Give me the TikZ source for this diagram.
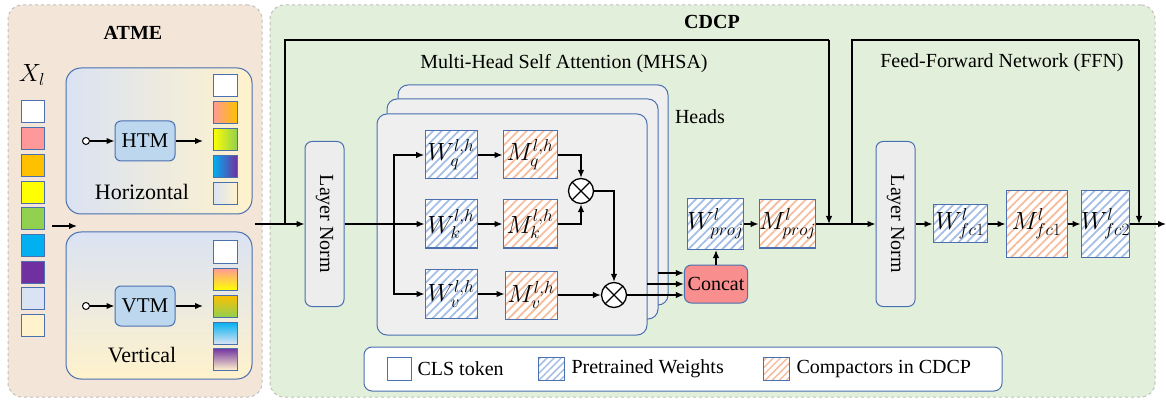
\documentclass[tikz,border=0pt]{standalone}
\usepackage{fontspec}
\setmainfont{Liberation Serif}
\usetikzlibrary{arrows.meta,patterns.meta}
\definecolor{bordc}{HTML}{4A70B0}
\definecolor{atmefill}{HTML}{F3E5D8}
\definecolor{cdcpfill}{HTML}{E2EFDA}
\definecolor{panelgray}{HTML}{BFBFBF}
\definecolor{lngray}{HTML}{EDEDED}
\definecolor{headgray}{HTML}{EFEFEF}
\definecolor{tmblue}{HTML}{BDD7EE}
\definecolor{concatc}{HTML}{F88E8E}
\definecolor{hatchb}{HTML}{A4BEE6}
\definecolor{hatcho}{HTML}{F6BE9E}
\definecolor{ga}{HTML}{DAE3F3}
\definecolor{gb}{HTML}{FFF2CC}
\definecolor{cpink}{HTML}{FF9999}
\definecolor{corange}{HTML}{FFC000}
\definecolor{cyellow}{HTML}{FFFF00}
\definecolor{cgreen}{HTML}{92D050}
\definecolor{ccyan}{HTML}{00B0F0}
\definecolor{cpurple}{HTML}{7030A0}
\tikzset{
  arr/.style={line width=1.4pt, -{Latex[length=8pt,width=6.5pt]}},
  plain/.style={line width=1.4pt},
  tok/.style={draw=bordc, line width=1pt, minimum width=23pt, minimum height=22pt, inner sep=0pt},
  pre/.style={draw=bordc, line width=1pt, preaction={fill=white},
    pattern={Lines[angle=45,distance=6pt,line width=1.8pt]}, pattern color=hatchb,
    inner sep=0pt, font=\fontsize{25}{28}\selectfont},
  comp/.style={pre, pattern color=hatcho},
  lnbox/.style={draw=bordc, line width=1pt, fill=lngray, rounded corners=7pt, minimum width=39pt, minimum height=165pt},
  tm/.style={draw=bordc, line width=1pt, fill=tmblue, rounded corners=6pt, minimum width=60pt, minimum height=40pt, font=\fontsize{21}{24}\selectfont},
  head/.style={draw=bordc, line width=1pt, fill=headgray, rounded corners=10pt},
  gbox/.style={draw=bordc, line width=1pt, rounded corners=15pt, minimum width=186pt},
  otim/.style={circle, draw, line width=1.3pt, fill=white, minimum size=25pt, inner sep=0pt,
    path picture={\draw[line width=1.3pt] (path picture bounding box.south west) -- (path picture bounding box.north east)
      (path picture bounding box.north west) -- (path picture bounding box.south east);}},
  panel/.style={draw=panelgray, dashed, line width=1pt, rounded corners=14pt},
  dotc/.style={circle, draw, line width=1pt, fill=white, minimum size=7pt, inner sep=0pt},
}
\begin{document}
\begin{tikzpicture}[x=1pt,y=-1pt,font=\fontsize{20}{24}\selectfont]
\useasboundingbox (0,0) rectangle (1166,403);
% panels
\node[panel, fill=atmefill, minimum width=254pt, minimum height=392pt] (atme) at (135,201) {};
\node[panel, fill=cdcpfill, minimum width=885pt, minimum height=392pt] (cdcp) at (712.5,201) {};
\node[font=\fontsize{20}{24}\selectfont\bfseries] (atmet) at (133,33) {ATME};
\node[font=\fontsize{20}{24}\selectfont\bfseries] (cdcpt) at (712,22) {CDCP};
% ATME
\node[font=\fontsize{23}{26}\selectfont] (xl) at (32,75) {$X_l$};
\foreach \c [count=\i from 0] in {white,cpink,corange,cyellow,cgreen,ccyan,cpurple,ga,gb}{
  \node[tok, fill=\c] (x\i) at (32.5,112+26.7*\i) {};
}
\coordinate (xa) at (52,226);
\coordinate (xb) at (77,226);
\draw[arr] (xa) -- (xb);
% horizontal
\node[gbox, minimum height=146pt, left color=ga, right color=gb] (hbox) at (159,141) {};
\node[tm] (htm) at (145,141) {HTM};
\node[dotc] (hdot) at (86,141) {};
\draw[arr] (hdot) -- (htm);
\coordinate (hout) at (203,141);
\draw[arr] (htm) -- (hout);
\node[font=\fontsize{22}{26}\selectfont] (hlab) at (142,192) {Horizontal};
\node[tok, minimum width=24pt, fill=white] (h0) at (225,86) {};
\node[tok, minimum width=24pt, left color=cpink, right color=corange] (h1) at (225,113) {};
\node[tok, minimum width=24pt, left color=cyellow, right color=cgreen] (h2) at (225,140) {};
\node[tok, minimum width=24pt, left color=ccyan, right color=cpurple] (h3) at (225,167) {};
\node[tok, minimum width=24pt, left color=ga, right color=gb] (h4) at (225,194) {};
% vertical
\node[gbox, minimum height=147pt, top color=ga, bottom color=gb] (vbox) at (159,305.5) {};
\node[tm] (vtm) at (145,306) {VTM};
\node[dotc] (vdot) at (86,306) {};
\draw[arr] (vdot) -- (vtm);
\coordinate (vout) at (203,306);
\draw[arr] (vtm) -- (vout);
\node[font=\fontsize{22}{26}\selectfont] (vlab) at (142,355) {Vertical};
\node[tok, minimum width=24pt, fill=white] (v0) at (225,252) {};
\node[tok, minimum width=24pt, top color=cpink, bottom color=cyellow] (v1) at (225,279) {};
\node[tok, minimum width=24pt, top color=corange, bottom color=cgreen] (v2) at (225,306) {};
\node[tok, minimum width=24pt, top color=ccyan, bottom color=ga] (v3) at (225,333) {};
\node[tok, minimum width=24pt, top color=cpurple, bottom color=gb] (v4) at (225,359) {};
% CDCP titles
\node (mhsat) at (564,64) {Multi-Head Self Attention (MHSA)};
\node (ffnt) at (1002,63) {Feed-Forward Network (FFN)};
\node (headst) at (700,117) {Heads};
% layer norms
\node[lnbox] (ln1) at (324.5,224) {};
\node[rotate=-90] (ln1t) at (ln1) {Layer Norm};
\node[lnbox] (ln2) at (895.5,224) {};
\node[rotate=-90] (ln2t) at (ln2) {Layer Norm};
% heads
\node[head, minimum width=270pt, minimum height=220pt] (hback) at (533,195) {};
\node[head, minimum width=271pt, minimum height=220pt] (hmid) at (522.5,209) {};
\node[head, minimum width=270pt, minimum height=221pt] (hfront) at (512,224.5) {};
% weights
\node[pre, minimum width=52pt, minimum height=48pt] (wq) at (451,155) {$W_q^{l,h}$};
\node[comp, minimum width=54pt, minimum height=48pt] (mq) at (530,155) {$M_q^{l,h}$};
\node[pre, minimum width=52pt, minimum height=48pt] (wk) at (451,224) {$W_k^{l,h}$};
\node[comp, minimum width=54pt, minimum height=48pt] (mk) at (530,224) {$M_k^{l,h}$};
\node[pre, minimum width=52pt, minimum height=49pt] (wv) at (451,294) {$W_v^{l,h}$};
\node[comp, minimum width=52pt, minimum height=48pt] (mv) at (531,295) {$M_v^{l,h}$};
\node[otim] (o1) at (581,191) {};
\node[otim] (o2) at (614,295) {};
\node[draw=bordc, line width=1pt, fill=concatc, rounded corners=7pt, minimum width=60pt, minimum height=38pt] (concat) at (716,284) {Concat};
\node[pre, minimum width=53pt, minimum height=51pt] (wproj) at (715.5,224) {$W_{proj}^l$};
\node[comp, minimum width=55pt, minimum height=48pt] (mproj) at (787.5,224) {$M_{proj}^l$};
\node[pre, minimum width=54pt, minimum height=38pt] (wfc1) at (960,224) {$W_{fc1}^l$};
\node[comp, minimum width=61pt, minimum height=66pt] (mfc1) at (1036.5,224) {$M_{fc1}^l$};
\node[pre, minimum width=41pt, minimum height=66pt] (wfc2) at (1105.5,224) {$W_{fc2}^l$};
% legend
\node[draw=bordc, line width=1pt, fill=white, rounded corners=8pt, minimum width=638pt, minimum height=44pt] (legend) at (683,369) {};
\node[tok, fill=white, minimum width=24pt, minimum height=23pt] (lg1) at (399,368.5) {};
\node[anchor=west] (lg1t) at (414,369) {CLS token};
\node[pre, minimum width=26pt, minimum height=23pt, pattern={Lines[angle=45,distance=5pt,line width=1.5pt]}] (lg2) at (551,368.5) {};
\node[anchor=west] (lg2t) at (568,369) {Pretrained Weights};
\node[comp, minimum width=26pt, minimum height=23pt, pattern={Lines[angle=45,distance=5pt,line width=1.5pt]}] (lg3) at (776,368.5) {};
\node[anchor=west] (lg3t) at (793,369) {Compactors in CDCP};
% main connectors
\coordinate (atmeout) at (255,224);
\coordinate (j1) at (285,224);
\coordinate (r1c) at (829,40);
\coordinate (r1e) at (829,224);
\coordinate (j2) at (852,224);
\coordinate (r2c) at (1139,40);
\coordinate (r2e) at (1139,224);
\coordinate (br) at (394,224);
\coordinate (outp) at (1166,224);
\coordinate (cin1) at (658,273);
\coordinate (cin2) at (647,284);
\draw[arr] (atmeout) -- (ln1.west);
\draw[plain] (j1) |- (r1c);
\draw[arr] (r1c) -- (r1e);
\draw[arr] (ln1.east) -- (wk.west);
\draw[arr] (br) |- (wq.west);
\draw[arr] (br) |- (wv.west);
\draw[arr] (wq) -- (mq);
\draw[arr] (wk) -- (mk);
\draw[arr] (wv.east) -- (wv.east -| mv.west);
\draw[arr] (mq.east) -| (o1.north);
\draw[arr] (mk.east) -| (o1.south);
\draw[arr] (o1.east) -| (o2.north);
\draw[arr] (mv.east) -- (o2.west);
\draw[arr] (o2.east) -- (o2.east -| concat.west);
\draw[arr] (cin1) -- (cin1 -| concat.west);
\draw[arr] (cin2) -- (cin2 -| concat.west);
\draw[arr] (concat.north) -- (concat.north |- wproj.south);
\draw[arr] (wproj) -- (mproj);
\draw[arr] (mproj.east) -- (ln2.west);
\draw[plain] (j2) |- (r2c);
\draw[arr] (r2c) -- (r2e);
\draw[arr] (ln2.east) -- (wfc1.west);
\draw[arr] (wfc1) -- (mfc1);
\draw[arr] (mfc1) -- (wfc2);
\draw[arr] (wfc2.east) -- (outp);
\end{tikzpicture}
\end{document}
